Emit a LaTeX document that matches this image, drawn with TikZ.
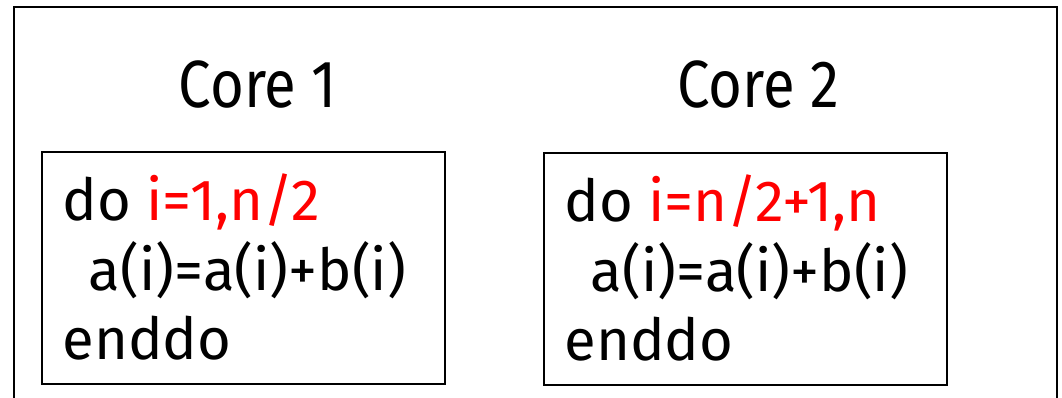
\documentclass[tikz,border=0pt]{standalone}
\usepackage{xcolor}
\usepackage{fontspec}
\setmainfont{Fira Sans}
\newfontfamily\titlefont[FakeStretch=0.87]{Fira Sans}
\usepackage{tikz}
\usetikzlibrary{positioning}

\begin{document}
\begin{tikzpicture}[x=0.02cm, y=-0.02cm,
    corebox/.style={rectangle, draw, line width=1pt, minimum width=8.06cm,
                minimum height=4.64cm, anchor=north west},
    code/.style={anchor=north west, align=left, inner sep=0pt,
                font=\fontsize{33}{38}\selectfont},
    title/.style={anchor=base, font=\titlefont\fontsize{38}{40}\selectfont}]
  \useasboundingbox (0,0) rectangle (1062,397);
  % outer frame, its bottom runs out of the picture
  \draw[line width=1.1pt] (14,400) -- (14,7) -- (1057,7) -- (1057,400);
  \node[title] (t1) at (258,107) {Core 1};
  \node[title] (t2) at (758,107) {Core 2};
  \node[corebox] (c1) at (41,151) {};
  \node[corebox] (c2) at (543,152) {};
  \node[code, below right=13pt and 12pt of c1.north west, anchor=north west] (l1)
        {do \textcolor{red}{i=1,n/2}\\[1.5pt]\hspace*{15pt}a(i)=a(i)+b(i)\\[1.5pt]enddo};
  \node[code, below right=13pt and 12pt of c2.north west, anchor=north west] (l2)
        {do \textcolor{red}{i=n/2+1,n}\\[1.5pt]\hspace*{15pt}a(i)=a(i)+b(i)\\[1.5pt]enddo};
\end{tikzpicture}
\end{document}
